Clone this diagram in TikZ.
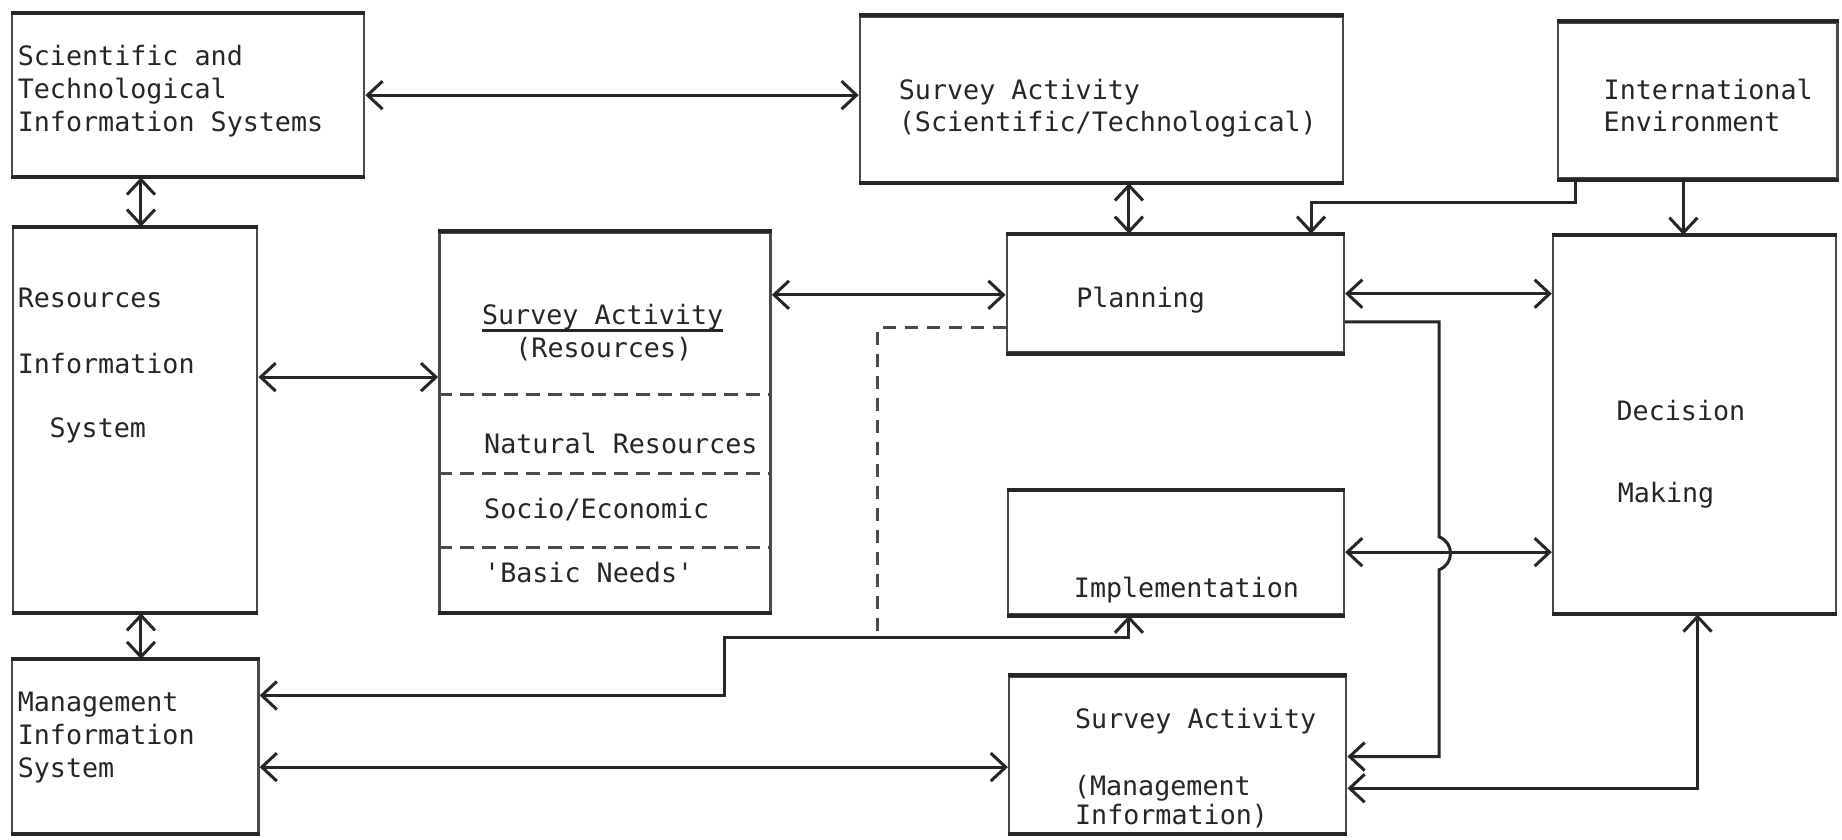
\documentclass[tikz,border=0pt]{standalone}
\usepackage{fontspec}
\newfontfamily\tw{DejaVu Sans Mono}
\usetikzlibrary{arrows.meta,fit,calc}
\definecolor{ink}{HTML}{262626}
\definecolor{side}{HTML}{4A4A4A}
\begin{document}
\begin{tikzpicture}[x=1.1748pt,y=-1.1748pt,
  box/.style={draw=side,line width=2.4pt,inner sep=0pt},
  edge/.style={draw=ink,line width=4pt},
  conn/.style={draw=ink,line width=3pt},
  dashconn/.style={draw=side,line width=2.6pt,dash pattern=on 13pt off 9pt},
  divider/.style={draw=side,line width=2.6pt,dash pattern=on 14pt off 8pt},
  txt/.style={anchor=base west,inner sep=0pt,font=\tw\fontsize{26.7pt}{33pt}\selectfont,text=ink},
  ctxt/.style={txt,anchor=base},
  >={Straight Barb[length=15pt,width=28pt]}]
\useasboundingbox (0,0) rectangle (1568,715);
\fill[white] (0,0) rectangle (1568,715);

% boxes
\node[box,fit={(10,12) (310,150)}] (stis) {};
\node[box,fit={(732,14) (1143,155)}] (ssci) {};
\node[box,fit={(1326,19) (1564,152)}] (intl) {};
\node[box,fit={(11,194) (219,521)}] (ris) {};
\node[box,fit={(374,198) (656,521)}] (sres) {};
\node[box,fit={(857,200) (1144,300)}] (plan) {};
\node[box,fit={(1322,201) (1563,522)}] (dec) {};
\node[box,fit={(858,418) (1144,523)}] (impl) {};
\node[box,fit={(10,562) (220,709)}] (mis) {};
\node[box,fit={(859,576) (1146,709)}] (smgmt) {};
\foreach \n in {stis,ssci,intl,ris,sres,plan,dec,impl,mis,smgmt}
  \draw[edge] (\n.north west) -- (\n.north east) (\n.south west) -- (\n.south east);

% dividers in survey (resources)
\foreach \yy in {336,403,466}
  \draw[divider] (sres.west |- 0,\yy) -- (sres.east |- 0,\yy);

% texts
\node[txt] (stis1) at (15,56) {Scientific and};
\node[txt] (stis2) at (15,84) {Technological};
\node[txt] (stis3) at (15,112) {Information Systems};

\node[txt] (ssci1) at (765,85) {Survey Activity};
\node[txt] (ssci2) at (765,112) {(Scientific/Technological)};

\node[txt] (intl1) at (1365,85) {International};
\node[txt] (intl2) at (1365,112) {Environment};

\node[txt] (ris1) at (15,262) {Resources};
\node[txt] (ris2) at (15,318) {Information};
\node[txt] (ris3) at (42,372) {System};

\node[ctxt] (sres1) at (513,276) {Survey Activity};
\draw[ink,line width=3pt] ([yshift=-6pt]sres1.base west) -- ([yshift=-6pt]sres1.base east);
\node[ctxt] (sres2) at (514,304) {(Resources)};
\node[txt] (sres3) at (412,386) {Natural Resources};
\node[txt] (sres4) at (412,441) {Socio/Economic};
\node[txt] (sres5) at (412,496) {'Basic Needs'};

\node[txt] (plan1) at (916,262) {Planning};

\node[txt] (dec1) at (1376,358) {Decision};
\node[txt] (dec2) at (1377,428) {Making};

\node[txt] (impl1) at (914,509) {Implementation};

\node[txt] (mis1) at (15,606) {Management};
\node[txt] (mis2) at (15,634) {Information};
\node[txt] (mis3) at (15,662) {System};

\node[txt] (smgmt1) at (915,620) {Survey Activity};
\node[txt] (smgmt2) at (914,677) {(Management};
\node[txt] (smgmt3) at (915,702) {Information)};

% connectors
\draw[conn,<->] (stis.east) -- (stis.east -| ssci.west);
\draw[conn,<->] (120,0 |- stis.south) -- (120,0 |- ris.north);
\draw[conn,<->] (961,0 |- ssci.south) -- (961,0 |- plan.north);
\draw[conn,->] (1341,0 |- intl.south) -- (1341,172) -- (1116,172) -- (1116,0 |- plan.north);
\draw[conn,->] (1433,0 |- intl.south) -- (1433,0 |- dec.north);
\draw[conn,<->] (ris.east |- 0,321) -- (sres.west |- 0,321);
\draw[conn,<->] (sres.east |- 0,251) -- (plan.west |- 0,251);
\draw[conn,<->] (plan.east |- 0,250) -- (dec.west |- 0,250);
\draw[conn,<->] (impl.east |- 0,470) -- (dec.west |- 0,470);
\draw[conn,->] (plan.east |- 0,274) -- (1225,274) -- (1225,457)
  .. controls (1238,462) and (1238,480) .. (1225,485) -- (1225,644) -- (smgmt.east |- 0,644);
\draw[conn,<->] (smgmt.east |- 0,671) -| (1445,0 |- dec.south);
\coordinate (dj) at (747,543);
\draw[conn,<->] (961,0 |- impl.south) -- (961,543) -- (617,543) -- (617,592) -- (mis.east |- 0,592);
\draw[dashconn] (plan.west |- 0,279) -| (dj);
\draw[conn,<->] (mis.east |- 0,653) -- (smgmt.west |- 0,653);
\draw[conn,<->] (120,0 |- ris.south) -- (120,0 |- mis.north);
\end{tikzpicture}
\end{document}
